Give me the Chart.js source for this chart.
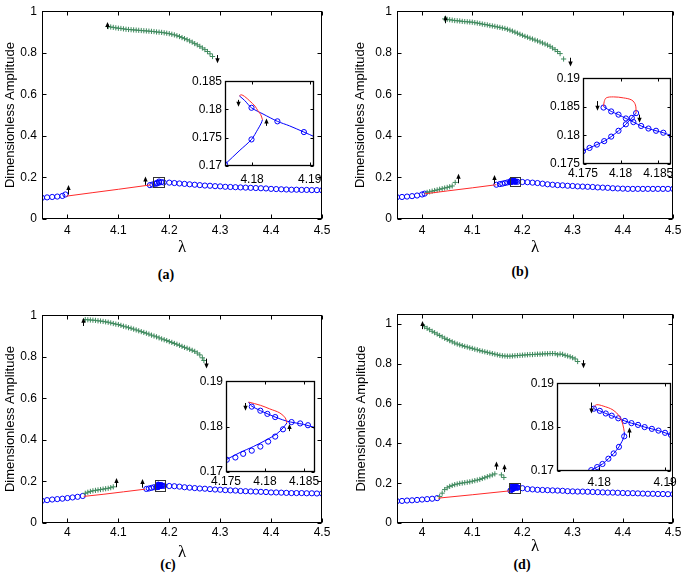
<!DOCTYPE html>
<html>
<head>
<meta charset="utf-8">
<script src="https://cdn.jsdelivr.net/npm/chart.js@4.4.1/dist/chart.umd.min.js"></script>
<style>
  body { margin: 0; background: #fff; width: 685px; height: 582px; position: relative; overflow: hidden; }
  canvas { position: absolute; }
  .cap { position: absolute; font: bold 14px "Liberation Serif", "Times New Roman", serif; transform: translate(-50%, -50%); white-space: nowrap; }
</style>
</head>
<body>
<div class="cap" style="left:166px;top:275px">(a)</div>
<div class="cap" style="left:520px;top:272px">(b)</div>
<div class="cap" style="left:168px;top:565px">(c)</div>
<div class="cap" style="left:522px;top:565px">(d)</div>
<script>
'use strict';

// tick labels
const mainXTicks = [4, 4.1, 4.2, 4.3, 4.4, 4.5];
const mainYTicks = [0, 0.2, 0.4, 0.6, 0.8, 1];
const aInXTicks = [4.18, 4.19];
const aInYTicks = [0.17, 0.175, 0.18, 0.185];
const bInXTicks = [4.175, 4.18, 4.185];
const bInYTicks = [0.175, 0.18, 0.185, 0.19];
const cInXTicks = [4.175, 4.18, 4.185];
const cInYTicks = [0.17, 0.18, 0.19];
const dInXTicks = [4.18, 4.19];
const dInYTicks = [0.17, 0.18, 0.19];

// ---- (a) ----
const aBlue = [[3.95,0.102],[3.96,0.104],[3.97,0.106],[3.98,0.108],[3.99,0.111],[3.996,0.118],
  [4.162,0.163],[4.167,0.166],[4.172,0.170],[4.176,0.174],[4.1753,0.1703],[4.1799,0.1747],[4.1799,0.1803],[4.1844,0.1779],[4.1890,0.1760],
  [4.20,0.175],[4.21,0.173],[4.22,0.171],[4.23,0.169],[4.24,0.167],[4.25,0.165],[4.26,0.163],[4.27,0.161],[4.28,0.160],[4.29,0.158],
  [4.30,0.157],[4.31,0.155],[4.32,0.154],[4.33,0.153],[4.34,0.152],[4.35,0.151],[4.36,0.150],[4.37,0.149],[4.38,0.148],[4.39,0.147],
  [4.40,0.145],[4.41,0.144],[4.42,0.143],[4.43,0.142],[4.44,0.141],[4.45,0.141],[4.46,0.140],[4.47,0.140],[4.48,0.139],[4.49,0.139],[4.50,0.138]];
const aRed = [[3.998,0.110],[4.05,0.127],[4.10,0.143],[4.163,0.164]];
const aGreenUp = [[4.08,0.926],[4.085,0.924],[4.09,0.922],[4.095,0.920],[4.10,0.918],[4.105,0.917],[4.11,0.915],[4.115,0.913],[4.12,0.912],
  [4.125,0.911],[4.13,0.910],[4.135,0.909],[4.14,0.908],[4.145,0.907],[4.15,0.906],[4.155,0.905],[4.16,0.904],[4.165,0.903],[4.17,0.902],
  [4.175,0.900],[4.18,0.899],[4.185,0.898],[4.19,0.896],[4.195,0.894],[4.20,0.892],[4.205,0.889],[4.21,0.886],[4.215,0.882],[4.22,0.878],
  [4.225,0.873],[4.23,0.868],[4.235,0.863],[4.24,0.857],[4.245,0.851],[4.25,0.844],[4.255,0.838],[4.26,0.831],[4.265,0.823],[4.27,0.815],
  [4.275,0.806],[4.28,0.795],[4.285,0.782]];
const aGreenLow = [];
const aArrows = [[4.001,0.118,0.164],[4.152,0.164,0.204],[4.078,0.915,0.948],[4.294,0.789,0.750]];
const aBox = [4.169,4.189,0.152,0.200];
const aInLow = [[4.1753,0.1703],[4.1779,0.1728],[4.1799,0.1747],[4.1810,0.1765],[4.1816,0.1776],[4.1818,0.1782]];
const aInRed = [[4.1818,0.1782],[4.1815,0.1791],[4.1810,0.1798],[4.1805,0.1806],[4.1796,0.1815],[4.1787,0.1823],[4.1781,0.1826],[4.1778,0.1824]];
const aInUp = [[4.1778,0.1824],[4.1787,0.1816],[4.1799,0.1803],[4.1819,0.1792],[4.1844,0.1779],[4.1865,0.1771],[4.1890,0.1760],[4.1910,0.1751]];
const aInDots = [[4.1753,0.1703],[4.1799,0.1747],[4.1799,0.1803],[4.1844,0.1779],[4.1890,0.1760]];
const aInArrows = [[4.1775,0.1817,0.1805],[4.1824,0.1771,0.1784]];

// ---- (b) ----
const bBlue = [[3.95,0.105],[3.96,0.106],[3.97,0.108],[3.98,0.110],[3.99,0.113],[4.00,0.118],[4.005,0.122],
  [4.148,0.165],[4.155,0.168],[4.16,0.170],[4.165,0.173],[4.17,0.176],
  [4.1750,0.1773],[4.1759,0.1778],[4.1769,0.1784],[4.1778,0.1790],[4.1788,0.1798],[4.1797,0.1808],[4.1807,0.1819],[4.1815,0.1831],[4.1821,0.1839],
  [4.1777,0.1849],[4.1788,0.1842],[4.1797,0.1836],[4.1807,0.1830],[4.1817,0.1823],[4.1827,0.1817],[4.1837,0.1812],[4.1847,0.1808],[4.1857,0.1805],[4.1868,0.1799],
  [4.19,0.179],[4.20,0.178],[4.21,0.177],[4.22,0.175],[4.23,0.173],[4.24,0.170],[4.25,0.167],[4.26,0.165],[4.27,0.163],[4.28,0.162],
  [4.29,0.160],[4.30,0.159],[4.31,0.157],[4.32,0.156],[4.33,0.155],[4.34,0.154],[4.35,0.152],[4.36,0.151],[4.37,0.150],[4.38,0.148],
  [4.39,0.147],[4.40,0.146],[4.41,0.145],[4.42,0.145],[4.43,0.145],[4.44,0.145],[4.45,0.145],[4.46,0.145],[4.47,0.145],[4.48,0.145],[4.49,0.145],[4.50,0.145]];
const bRed = [[4.005,0.121],[4.05,0.135],[4.10,0.150],[4.148,0.165]];
const bGreenUp = [[4.045,0.963],[4.05,0.961],[4.055,0.959],[4.06,0.957],[4.065,0.955],[4.07,0.954],[4.075,0.953],[4.08,0.951],[4.085,0.950],
  [4.09,0.949],[4.095,0.948],[4.10,0.947],[4.105,0.945],[4.11,0.943],[4.115,0.941],[4.12,0.938],[4.125,0.936],[4.13,0.934],[4.135,0.931],
  [4.14,0.929],[4.145,0.927],[4.15,0.924],[4.155,0.922],[4.16,0.919],[4.165,0.917],[4.17,0.913],[4.175,0.909],[4.18,0.904],[4.185,0.899],
  [4.19,0.894],[4.195,0.889],[4.20,0.884],[4.205,0.879],[4.21,0.875],[4.215,0.870],[4.22,0.866],[4.225,0.861],[4.23,0.857],[4.235,0.852],
  [4.24,0.847],[4.245,0.842],[4.25,0.837],[4.255,0.831],[4.26,0.823],[4.265,0.815],[4.27,0.806],[4.275,0.796],[4.282,0.770]];
const bGreenLow = [[4.01,0.128],[4.015,0.131],[4.02,0.134],[4.025,0.137],[4.03,0.140],[4.035,0.143],[4.04,0.146],[4.045,0.149],
  [4.05,0.152],[4.055,0.155],[4.06,0.159],[4.066,0.176]];
const bArrows = [[4.072,0.172,0.218],[4.143,0.170,0.212],[4.045,0.942,0.980],[4.294,0.776,0.734]];
const bBox = [4.175,4.195,0.157,0.204];
const bInLow = [[4.1750,0.17725],[4.17587,0.17781],[4.17685,0.17839],[4.17782,0.1790],[4.17875,0.17979],[4.17972,0.18081],[4.1807,0.18194],[4.18149,0.18306],[4.18206,0.1839]];
const bInRed = [[4.18206,0.1839],[4.18197,0.18533],[4.18149,0.18617],[4.18038,0.18656],[4.17905,0.18673],[4.17809,0.18656],[4.17782,0.18589],[4.17773,0.18504]];
const bInUp = [[4.17773,0.18504],[4.17875,0.18419],[4.17972,0.18363],[4.1807,0.18296],[4.1817,0.18233],[4.18273,0.18165],[4.1837,0.1812],[4.18471,0.18081],[4.18568,0.18047],[4.1868,0.1799]];
const bInDots = [[4.1750,0.17725],[4.17587,0.17781],[4.17685,0.17839],[4.17782,0.1790],[4.17875,0.17979],[4.17972,0.18081],[4.1807,0.18194],[4.18149,0.18306],[4.18206,0.1839],
  [4.17773,0.18487],[4.17875,0.18419],[4.17972,0.18363],[4.1807,0.18296],[4.1817,0.18233],[4.18273,0.18165],[4.1837,0.1812],[4.18471,0.18081],[4.18568,0.18047],[4.1868,0.1799]];
const bInArrows = [[4.17685,0.1860,0.1843],[4.1824,0.18363,0.18221]];

// ---- (c) ----
const cBlue = [[3.95,0.107],[3.96,0.110],[3.97,0.113],[3.98,0.115],[3.99,0.117],[4.00,0.120],[4.01,0.123],[4.02,0.126],[4.03,0.130],
  [4.155,0.164],[4.16,0.166],[4.165,0.169],[4.17,0.172],
  [4.1751,0.1727],[4.1762,0.1732],[4.1772,0.1740],[4.1783,0.1747],[4.1794,0.1756],[4.1804,0.1767],[4.1813,0.1778],[4.1823,0.1794],
  [4.1783,0.1844],[4.1794,0.1835],[4.1803,0.1828],[4.1813,0.1821],[4.1834,0.1810],[4.1845,0.1807],[4.1855,0.1803],[4.1866,0.1797],
  [4.19,0.179],[4.20,0.178],[4.21,0.177],[4.22,0.175],[4.23,0.172],[4.24,0.170],[4.25,0.168],[4.26,0.166],[4.27,0.165],[4.28,0.163],
  [4.29,0.161],[4.30,0.160],[4.31,0.158],[4.32,0.157],[4.33,0.156],[4.34,0.154],[4.35,0.153],[4.36,0.152],[4.37,0.151],[4.38,0.150],
  [4.39,0.149],[4.40,0.147],[4.41,0.147],[4.42,0.146],[4.43,0.145],[4.44,0.144],[4.45,0.144],[4.46,0.144],[4.47,0.143],[4.48,0.143],[4.49,0.142],[4.50,0.142]];
const cRed = [[4.032,0.128],[4.07,0.138],[4.11,0.150],[4.153,0.163]];
const cGreenUp = [[4.035,0.979],[4.04,0.978],[4.045,0.977],[4.05,0.976],[4.055,0.975],[4.06,0.973],[4.065,0.972],[4.07,0.970],[4.075,0.968],
  [4.08,0.966],[4.085,0.963],[4.09,0.960],[4.095,0.957],[4.10,0.955],[4.105,0.951],[4.11,0.947],[4.115,0.944],[4.12,0.940],[4.125,0.937],
  [4.13,0.933],[4.135,0.929],[4.14,0.925],[4.145,0.921],[4.15,0.917],[4.155,0.913],[4.16,0.909],[4.165,0.904],[4.17,0.900],[4.175,0.896],
  [4.18,0.891],[4.185,0.886],[4.19,0.882],[4.195,0.878],[4.20,0.873],[4.205,0.869],[4.21,0.864],[4.215,0.860],[4.22,0.855],[4.225,0.850],
  [4.23,0.845],[4.235,0.841],[4.24,0.836],[4.245,0.831],[4.25,0.826],[4.255,0.818],[4.26,0.809],[4.265,0.795],[4.268,0.782]];
const cGreenLow = [[4.035,0.143],[4.04,0.148],[4.045,0.152],[4.05,0.155],[4.055,0.157],[4.06,0.159],[4.065,0.161],[4.07,0.163],
  [4.075,0.165],[4.08,0.167],[4.085,0.170],[4.09,0.174]];
const cArrows = [[4.096,0.172,0.216],[4.146,0.170,0.212],[4.031,0.948,0.988],[4.273,0.791,0.744]];
const cBox = [4.171,4.191,0.154,0.205];
const cInLow = [[4.1750,0.1727],[4.1768,0.1743],[4.1785,0.1756],[4.1802,0.1771],[4.1815,0.1784],[4.1823,0.1797],[4.1828,0.1808]];
const cInRed = [[4.1828,0.1808],[4.1826,0.1819],[4.1819,0.1830],[4.1806,0.1839],[4.1794,0.1847],[4.1779,0.1854]];
const cInUp = [[4.1779,0.1854],[4.1783,0.1845],[4.1806,0.1826],[4.1828,0.1812],[4.1849,0.1805],[4.1866,0.1797]];
const cInDots = [[4.1751,0.1727],[4.1762,0.1732],[4.1772,0.1740],[4.1783,0.1747],[4.1794,0.1756],[4.1804,0.1767],[4.1813,0.1778],[4.1823,0.1794],
  [4.1783,0.1844],[4.1794,0.1835],[4.1803,0.1828],[4.1813,0.1821],[4.1834,0.1810],[4.1845,0.1807],[4.1855,0.1803],[4.1866,0.1797]];
const cInArrows = [[4.1774,0.1852,0.1835],[4.1831,0.1790,0.1806]];

// ---- (d) ----
const dBlue = [[3.95,0.110],[3.96,0.111],[3.97,0.113],[3.98,0.114],[3.99,0.116],[4.00,0.118],[4.01,0.120],[4.02,0.122],[4.03,0.125],
  [4.176,0.163],[4.178,0.167],
  [4.1788,0.1702],[4.1797,0.1709],[4.1805,0.1716],[4.1814,0.1728],[4.1822,0.1740],[4.1830,0.1755],[4.1838,0.1779],
  [4.1792,0.1842],[4.1801,0.1837],[4.1810,0.1831],[4.1819,0.1826],[4.1829,0.1820],[4.1839,0.1814],[4.1849,0.1809],[4.1859,0.1805],
  [4.1869,0.1800],[4.1880,0.1796],[4.1890,0.1792],[4.1900,0.1787],[4.1909,0.1782],
  [4.20,0.175],[4.21,0.171],[4.22,0.169],[4.23,0.167],[4.24,0.166],[4.25,0.165],[4.26,0.164],[4.27,0.163],[4.28,0.162],[4.29,0.160],
  [4.30,0.159],[4.31,0.158],[4.32,0.158],[4.33,0.157],[4.34,0.156],[4.35,0.155],[4.36,0.154],[4.37,0.153],[4.38,0.153],[4.39,0.152],
  [4.40,0.151],[4.41,0.150],[4.42,0.150],[4.43,0.149],[4.44,0.148],[4.45,0.147],[4.46,0.147],[4.47,0.146],[4.48,0.146],[4.49,0.145],[4.50,0.145]];
const dRed = [[4.032,0.125],[4.10,0.142],[4.176,0.162]];
const dGreenUp = [[4.005,0.987],[4.01,0.979],[4.015,0.972],[4.02,0.964],[4.025,0.957],[4.03,0.950],[4.035,0.943],[4.04,0.936],[4.045,0.929],
  [4.05,0.923],[4.055,0.917],[4.06,0.911],[4.065,0.905],[4.07,0.900],[4.075,0.896],[4.08,0.892],[4.085,0.888],[4.09,0.885],[4.095,0.881],
  [4.10,0.878],[4.105,0.874],[4.11,0.871],[4.115,0.867],[4.12,0.864],[4.125,0.861],[4.13,0.858],[4.135,0.855],[4.14,0.852],[4.145,0.849],
  [4.15,0.846],[4.155,0.843],[4.16,0.841],[4.165,0.840],[4.17,0.839],[4.175,0.839],[4.18,0.840],[4.185,0.841],[4.19,0.842],[4.195,0.843],
  [4.20,0.844],[4.205,0.845],[4.21,0.846],[4.215,0.847],[4.22,0.847],[4.225,0.848],[4.23,0.849],[4.235,0.849],[4.24,0.850],[4.245,0.851],
  [4.25,0.851],[4.255,0.852],[4.26,0.852],[4.265,0.852],[4.27,0.846],[4.275,0.850],[4.28,0.848],[4.285,0.843],[4.29,0.840],[4.295,0.836],
  [4.30,0.831],[4.305,0.825],[4.31,0.812]];
const dGreenLow = [[4.035,0.133],[4.04,0.150],[4.045,0.168],[4.05,0.177],[4.055,0.184],[4.06,0.189],[4.065,0.193],[4.07,0.196],[4.075,0.199],
  [4.08,0.201],[4.085,0.203],[4.09,0.205],[4.095,0.207],[4.10,0.210],[4.105,0.213],[4.11,0.216],[4.115,0.219],[4.12,0.224],[4.125,0.228],
  [4.13,0.233],[4.135,0.237],[4.14,0.242],[4.145,0.247],[4.158,0.242],[4.163,0.229]];
const dArrows = [[4.148,0.268,0.309],[4.164,0.257,0.296],[4.000,0.975,1.016],[4.320,0.819,0.778]];
const dBox = [4.173,4.195,0.149,0.202];
const dInLow = [[4.1786,0.1697],[4.1788,0.1702],[4.1797,0.1709],[4.1805,0.1716],[4.1814,0.1728],[4.1822,0.1740],[4.1830,0.1755],[4.1838,0.1779],[4.1838,0.1790]];
const dInRed = [[4.1838,0.1790],[4.1836,0.1805],[4.1831,0.1824],[4.1821,0.1839],[4.1806,0.1848],[4.1796,0.1851],[4.1792,0.1846]];
const dInUp = [[4.1792,0.1846],[4.1792,0.1842],[4.1801,0.1837],[4.1810,0.1831],[4.1819,0.1826],[4.1829,0.1820],[4.1839,0.1814],[4.1849,0.1809],
  [4.1859,0.1805],[4.1869,0.1800],[4.1880,0.1796],[4.1890,0.1792],[4.1900,0.1787],[4.1910,0.1782]];
const dInDots = [[4.1788,0.1702],[4.1797,0.1709],[4.1805,0.1716],[4.1814,0.1728],[4.1822,0.1740],[4.1830,0.1755],[4.1838,0.1779],
  [4.1792,0.1842],[4.1801,0.1837],[4.1810,0.1831],[4.1819,0.1826],[4.1829,0.1820],[4.1839,0.1814],[4.1849,0.1809],[4.1859,0.1805],
  [4.1869,0.1800],[4.1880,0.1796],[4.1890,0.1792],[4.1900,0.1787],[4.1909,0.1782]];
const dInArrows = [[4.1788,0.1856,0.1831],[4.1845,0.1776,0.1799]];

const BLUE = '#0000ff';
const RED = '#ff2a2a';
const GREEN = '#3f8a5e';
const SANS = '"Liberation Sans", Arial, Helvetica, sans-serif';

Chart.defaults.animation = false;
Chart.defaults.responsive = false;
Chart.defaults.devicePixelRatio = 1;
Chart.defaults.plugins.legend.display = false;
Chart.defaults.plugins.tooltip.enabled = false;
Chart.defaults.color = '#000';

const pts = arr => arr.map(([x, y]) => ({x, y}));

function dotSet(data) {
  return {data: pts(data), showLine: false, pointStyle: 'circle', pointRadius: 2.6,
    borderColor: BLUE, backgroundColor: 'rgba(0,0,0,0)', pointBorderWidth: 1};
}
function lineSet(data, color, tension) {
  return {data: pts(data), showLine: true, pointRadius: 0, borderColor: color, borderWidth: 1, tension: tension || 0};
}
function crossSet(data) {
  return {data: pts(data), showLine: false, pointStyle: 'cross', pointRadius: 2.6,
    borderColor: GREEN, pointBorderWidth: 1};
}

function decoPlugin(o) {
  return {
    id: 'deco',
    beforeDatasetsDraw(chart) {
      if (!o.inset) return;
      const a = chart.chartArea, ctx = chart.ctx;
      ctx.save(); ctx.fillStyle = '#fff';
      ctx.fillRect(a.left, a.top, a.right - a.left, a.bottom - a.top);
      ctx.restore();
    },
    afterDatasetsDraw(chart) {
      const {ctx, chartArea: a, scales: {x, y}} = chart;
      ctx.save();
      ctx.lineWidth = 1;
      // zoom window marker
      if (o.box) {
        const x0 = Math.round(x.getPixelForValue(o.box[0])) + 0.5, x1 = Math.round(x.getPixelForValue(o.box[1])) + 0.5;
        const y0 = Math.round(y.getPixelForValue(o.box[2])) + 0.5, y1 = Math.round(y.getPixelForValue(o.box[3])) + 0.5;
        ctx.strokeStyle = '#333';
        ctx.strokeRect(x0, y1, x1 - x0, y0 - y1);
      }
      // arrows
      ctx.strokeStyle = '#000'; ctx.fillStyle = '#000';
      (o.arrows || []).forEach(([xv, from, to]) => {
        const px = Math.round(x.getPixelForValue(xv)) + 0.5;
        const p0 = y.getPixelForValue(from), p1 = y.getPixelForValue(to);
        const dir = p1 < p0 ? -1 : 1;
        ctx.beginPath(); ctx.moveTo(px, p0); ctx.lineTo(px, p1 - dir * 3); ctx.stroke();
        ctx.beginPath(); ctx.moveTo(px, p1); ctx.lineTo(px - 2.2, p1 - dir * 5); ctx.lineTo(px + 2.2, p1 - dir * 5);
        ctx.closePath(); ctx.fill();
      });
      // frame and inward ticks
      const L = Math.round(a.left) + 0.5, R = Math.round(a.right) - 0.5;
      const T = Math.round(a.top) + 0.5, B = Math.round(a.bottom) - 0.5;
      ctx.strokeStyle = '#000';
      ctx.lineWidth = o.inset ? 1.3 : 1;
      ctx.strokeRect(L, T, R - L, B - T);
      ctx.lineWidth = 1;
      const len = o.inset ? 3 : 4;
      ctx.beginPath();
      o.xTicks.forEach(v => {
        const px = Math.round(x.getPixelForValue(v)) + 0.5;
        ctx.moveTo(px, B); ctx.lineTo(px, B - len);
        ctx.moveTo(px, T); ctx.lineTo(px, T + len);
      });
      o.yTicks.forEach(v => {
        const py = Math.round(y.getPixelForValue(v)) + 0.5;
        ctx.moveTo(L, py); ctx.lineTo(L + len, py);
        ctx.moveTo(R, py); ctx.lineTo(R - len, py);
      });
      ctx.stroke();
      ctx.restore();
    }
  };
}

function makeChart(o) {
  const [bl, bt, br, bb] = o.plot;
  const left = o.canvasLeft, top = bt - 8;
  const yw = bl - left, xh = o.xh;
  const cv = document.createElement('canvas');
  cv.width = br + o.padR - left;
  cv.height = bb + xh - top;
  cv.style.left = left + 'px';
  cv.style.top = top + 'px';
  document.body.appendChild(cv);
  const fmt = v => String(v);
  new Chart(cv, {
    type: 'scatter',
    data: {datasets: o.datasets},
    options: {
      layout: {padding: {left: 0, top: 8, right: o.padR, bottom: 0}},
      scales: {
        x: {
          type: 'linear', position: 'bottom', min: o.xMin, max: o.xMax,
          grid: {display: false, drawTicks: false}, border: {display: false},
          ticks: {font: {family: SANS, size: o.tickSize}, padding: o.xPad, autoSkip: false, maxRotation: 0, callback: fmt},
          afterBuildTicks: s => { s.ticks = o.xTicks.map(v => ({value: v})); },
          afterFit: s => { s.height = xh; },
          title: o.xTitle ? {display: true, text: 'λ', font: {family: '"Liberation Serif", "Times New Roman", serif', size: 17, lineHeight: 1}, padding: 0} : {display: false}
        },
        y: {
          type: 'linear', position: 'left', min: o.yMin, max: o.yMax,
          grid: {display: false, drawTicks: false}, border: {display: false},
          ticks: {font: {family: SANS, size: o.tickSize}, padding: o.yPad, autoSkip: false, callback: fmt},
          afterBuildTicks: s => { s.ticks = o.yTicks.map(v => ({value: v})); },
          afterFit: s => { s.width = yw; },
          title: o.yTitleX ? {display: true, text: 'Dimensionless Amplitude', font: {family: SANS, size: 13, lineHeight: 1.2},
            padding: {top: o.yTitleX - 7.8 - left, bottom: 0}} : {display: false}
        }
      }
    },
    plugins: [decoPlugin(o)]
  });
}

function mainPanel(plot, canvasLeft, yTitleX, lamY, xPad, yMax, blue, red, greenUp, greenLow, arrows, box) {
  makeChart({
    plot, canvasLeft, yTitleX, xTitle: true, xh: lamY + 8 - plot[3], padR: 14,
    xMin: 3.95, xMax: 4.5, yMin: 0, yMax, xTicks: mainXTicks, yTicks: mainYTicks,
    tickSize: 12, xPad, yPad: 5, arrows, box,
    datasets: [lineSet(red, RED), crossSet(greenUp), crossSet(greenLow), dotSet(blue)]
  });
}

function insetPanel(plot, xMin, xMax, yMin, yMax, xTicks, yTicks, xPad, low, red, up, dots, arrows) {
  makeChart({
    plot, canvasLeft: plot[0] - 38, xh: 22, padR: 14, inset: true,
    xMin, xMax, yMin, yMax, xTicks, yTicks, tickSize: 12, xPad, yPad: 3, arrows,
    datasets: [lineSet(red, RED, 0.35), lineSet(low, BLUE, 0.3), lineSet(up, BLUE, 0.3), dotSet(dots)]
  });
}

mainPanel([42, 7, 322, 219], 0, 10, 248, 4, 1, aBlue, aRed, aGreenUp, aGreenLow, aArrows, aBox);
mainPanel([397, 7, 673, 219], 350, 360.7, 248, 4, 1, bBlue, bRed, bGreenUp, bGreenLow, bArrows, bBox);
mainPanel([42, 311, 322, 523], 0, 10, 553, 2, 1, cBlue, cRed, cGreenUp, cGreenLow, cArrows, cBox);
mainPanel([397, 310, 673, 523], 350, 361.7, 547, 2, 1.05, dBlue, dRed, dGreenUp, dGreenLow, dArrows, dBox);

insetPanel([225, 79, 314, 166], 4.1753, 4.1907, 0.17, 0.185, aInXTicks, aInYTicks, 6, aInLow, aInRed, aInUp, aInDots, aInArrows);
insetPanel([583, 76, 671, 164], 4.175, 4.1867, 0.175, 0.19, bInXTicks, bInYTicks, 2, bInLow, bInRed, bInUp, bInDots, bInArrows);
insetPanel([226, 379, 315, 472], 4.175, 4.1864, 0.17, 0.19, cInXTicks, cInYTicks, 2, cInLow, cInRed, cInUp, cInDots, cInArrows);
insetPanel([557, 381, 671, 471], 4.1736, 4.1909, 0.17, 0.19, dInXTicks, dInYTicks, 4, dInLow, dInRed, dInUp, dInDots, dInArrows);
</script>
</body>
</html>
